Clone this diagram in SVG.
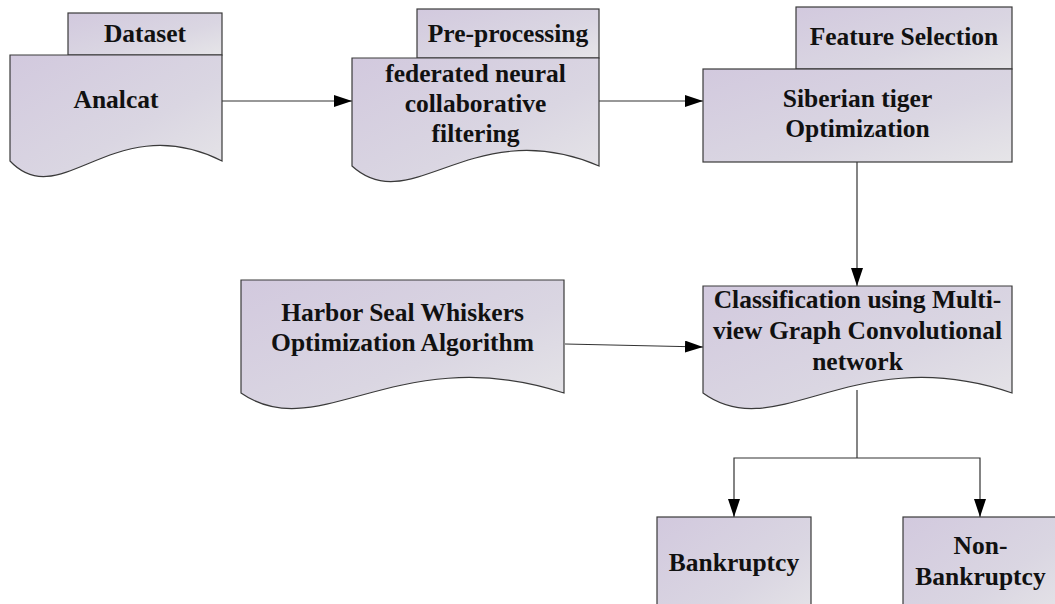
<svg xmlns="http://www.w3.org/2000/svg" width="1055" height="604" viewBox="0 0 1055 604">
  <style>
    .shape { fill: url(#lavender); stroke: #3a3a3a; stroke-width: 1.2; }
    .wire { fill: none; stroke: #333; stroke-width: 1.2; }
    .label { font-family: "Liberation Serif", "Times New Roman", serif; font-weight: bold; font-size: 25.5px; fill: #111; text-anchor: middle; }
  </style>
  <defs>
    <linearGradient id="lavender" x1="0" y1="0" x2="1" y2="1">
      <stop offset="0" stop-color="#d2c9de"/>
      <stop offset="0.6" stop-color="#dad6e2"/>
      <stop offset="1" stop-color="#e6e5e8"/>
    </linearGradient>
    <marker id="arrow" markerUnits="userSpaceOnUse" markerWidth="18" markerHeight="12" refX="18" refY="6" orient="auto">
      <path d="M0,0 L18,6 L0,12 Z" fill="#000"/>
    </marker>
  </defs>

  <rect width="1055" height="604" fill="#fff"/>

  <!-- connectors -->
  <g id="connectors">
    <path class="wire" d="M222,101 H352" marker-end="url(#arrow)"/>
    <path class="wire" d="M599,101 H703" marker-end="url(#arrow)"/>
    <path class="wire" d="M857,162 V286" marker-end="url(#arrow)"/>
    <path class="wire" d="M565,344 L703,347" marker-end="url(#arrow)"/>
    <path class="wire" d="M857,390 V458"/>
    <path class="wire" d="M857,458 H734 V517" marker-end="url(#arrow)"/>
    <path class="wire" d="M857,458 H980 V517" marker-end="url(#arrow)"/>
  </g>

  <!-- input data -->
  <g id="dataset">
    <rect class="shape" x="68" y="13" width="154" height="42"/>
    <path class="shape" d="M10,55 H222 V161 C114,107 61,215 10,161 Z"/>
    <text class="label" x="145" y="42">Dataset</text>
    <text class="label" x="116" y="108">Analcat</text>
  </g>

  <!-- pre-processing -->
  <g id="preprocessing">
    <rect class="shape" x="417" y="9" width="182" height="49"/>
    <path class="shape" d="M352,58 H599 V166 C473,112 411,220 352,166 Z"/>
    <text class="label" x="508" y="42">Pre-processing</text>
    <text class="label" x="475.5" y="82">federated neural</text>
    <text class="label" x="475.5" y="112">collaborative</text>
    <text class="label" x="475.5" y="142">filtering</text>
  </g>

  <!-- feature selection -->
  <g id="feature-selection">
    <rect class="shape" x="796" y="7" width="216" height="62"/>
    <rect class="shape" x="703" y="69" width="309" height="93"/>
    <text class="label" x="904" y="45">Feature Selection</text>
    <text class="label" x="857.5" y="107">Siberian tiger</text>
    <text class="label" x="857.5" y="137">Optimization</text>
  </g>

  <!-- hyperparameter optimizer -->
  <g id="hswo">
    <path class="shape" d="M241,280 H564 V393 C399,339 318.5,447 241,393 Z"/>
    <text class="label" x="402.5" y="321">Harbor Seal Whiskers</text>
    <text class="label" x="402.5" y="351">Optimization Algorithm</text>
  </g>

  <!-- classifier -->
  <g id="classification">
    <path class="shape" d="M703,286 H1012 V393 C854,339 777,447 703,393 Z"/>
    <text class="label" x="857.5" y="308">Classification using Multi-</text>
    <text class="label" x="857.5" y="339">view Graph Convolutional</text>
    <text class="label" x="857.5" y="370">network</text>
  </g>

  <!-- outcomes -->
  <g id="bankruptcy">
    <rect class="shape" x="657" y="517" width="154" height="110"/>
    <text class="label" x="734" y="571">Bankruptcy</text>
  </g>
  <g id="non-bankruptcy">
    <rect class="shape" x="903" y="517" width="155" height="110"/>
    <text class="label" x="980.5" y="554">Non-</text>
    <text class="label" x="980.5" y="585">Bankruptcy</text>
  </g>
</svg>
